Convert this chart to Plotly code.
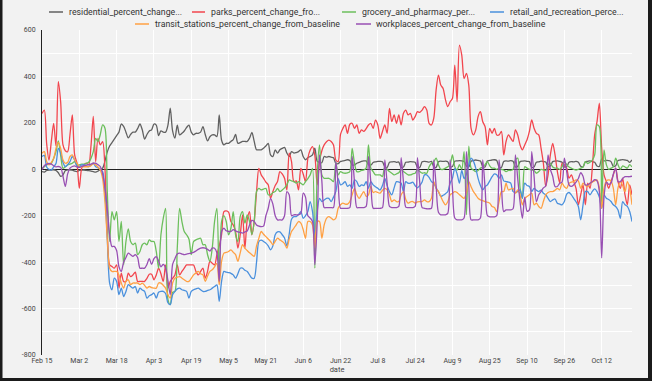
import plotly.graph_objects as go
import pandas as pd

start_date = "2020-02-15"
n_days = 254
dates = pd.date_range(start_date, periods=n_days, freq="D")

residential = [
    -10, -12, -5, -3, -4, -2, -5,
    -15, -30, -25, -5, -3, -2, -4,
    -8, -10, -5, -4, -3, -5, -6,
    -8, -10, -12, -8, -2, 5, 35,
    75, 100, 115, 130, 145, 160, 195,
    185, 160, 135, 150, 160, 160, 175,
    195, 170, 130, 150, 165, 170, 195,
    190, 145, 165, 160, 160, 190, 263,
    165, 134, 190, 148, 155, 165, 180,
    190, 160, 148, 155, 155, 160, 184,
    150, 122, 140, 148, 148, 141, 234,
    125, 105, 112, 112, 120, 128, 150,
    112, 115, 120, 120, 120, 134, 159,
    120, 84, 84, 84, 91, 100, 112,
    62, 55, 84, 70, 84, 90, 94,
    70, 55, 76, 70, 72, 76, 84,
    55, 41, 50, 55, 62, 91, 34,
    30, 28, 55, 52, 55, 52, 50,
    26, 24, 34, 36, 38, 41, 38,
    19, 19, 26, 30, 34, 36, 36,
    20, 18, 29, 32, 34, 34, 32,
    10, 8, 30, 32, 33, 30, 31,
    8, 10, 30, 31, 33, 32, 30,
    9, 8, 32, 34, 33, 31, 34,
    10, 8, 33, 35, 34, 35, 33,
    10, 12, 35, 36, 37, 36, 34,
    14, 10, 35, 38, 40, 38, 36,
    12, 10, 36, 38, 40, 41, 38,
    10, 8, 34, 36, 35, 37, 35,
    10, 12, 33, 35, 36, 34, 33,
    8, 10, 30, 32, 35, 33, 31,
    12, 14, 33, 35, 36, 34, 30,
    10, 12, 30, 33, 32, 34, 30,
    13, 10, 32, 34, 36, 33, 30,
    14, 12, 45, 36, 38, 37, 33,
    12, 15, 38, 40, 42, 40, 38,
    30, 40,
]

parks = [
    240, 255, 110, 40, 120, 198, 100,
    378, 290, 105, 80, 76, 150, 234,
    62, 26, -82, 4, 20, 26, 19,
    100, 228, 33, 133, 105, 119, 4,
    -268, -412, -419, -426, -412, -512, -447,
    -483, -483, -447, -462, -455, -443, -483,
    -483, -483, -483, -470, -452, -452, -476,
    -455, -426, -450, -483, -412, -512, -483,
    -470, -455, -412, -455, -440, -426, -412,
    -412, -412, -412, -440, -455, -440, -426,
    -469, -440, -397, -405, -412, -368, -330,
    -282, -182, -179, -185, -225, -240, -268,
    -340, -282, -196, -340, -218, -182, -282,
    -225, -96, 4, -24, -39, -55, -67,
    -125, -96, -70, -53, -10, -20, -39,
    -89, 69, 33, -53, -50, -89, 4,
    -20, -53, 47, 83, 98, 60, -67,
    33, 80, 105, 119, 126, 120, 105,
    40, 33, 150, 176, 191, 155, 194,
    198, 176, 191, 155, 170, 163, 175,
    191, 198, 176, 212, 191, 133, 163,
    191, 155, 262, 205, 234, 198, 234,
    191, 241, 255, 234, 241, 212, 227,
    248, 245, 255, 270, 255, 198, 191,
    220, 341, 406, 363, 348, 300, 270,
    291, 305, 449, 291, 535, 492, 391,
    413, 363, 176, 148, 170, 227, 248,
    205, 184, 105, 176, 155, 176, 148,
    148, 163, 62, 120, 148, 134, 120,
    170, 148, 105, 84, 105, 127, 163,
    213, 177, 155, 148, 91, 26, -74,
    -24, 62, 112, 62, -10, -59, 26,
    19, 5, -38, -24, -53, -82, -153,
    -110, -67, -153, -60, -82, 10, 150,
    205, 285, 91, -24, -53, -82, -53,
    -24, 5, -53, -82, -38, -110, -153,
    -67, -110,
]

grocery = [
    4, 11, 19, 22, 26, 47, 76,
    122, 60, 4, 11, 19, 22, 26,
    33, 16, 19, 22, 22, 26, 30,
    47, 76, 133, 120, 150, 191, 177,
    -100, -311, -182, -218, -182, -311, -225,
    -412, -311, -257, -311, -325, -318, -368,
    -354, -325, -318, -325, -304, -311, -311,
    -354, -426, -282, -211, -168, -560, -583,
    -530, -526, -340, -168, -225, -268, -282,
    -300, -368, -311, -304, -300, -297, -325,
    -325, -368, -397, -340, -225, -168, -483,
    -225, -200, -225, -282, -254, -182, -282,
    -311, -203, -182, -232, -196, -225, -282,
    -225, -96, -82, -89, -85, -82, -110,
    -110, -100, -96, -82, -96, -89, -80,
    -67, -46, -50, -53, -60, -53, -60,
    -67, -53, -40, -24, 4, -426, -24,
    105, -24, -39, -39, -39, -45, -53,
    30, -24, -10, -15, -17, -15, -10,
    90, 26, -10, -10, -5, -3, 5,
    105, 5, -10, -24, -24, -24, -31,
    11, 0, -10, -17, -24, -20, -15,
    0, -10, -17, -24, -24, -20, -17,
    0, -10, -17, -15, -17, 11, 26,
    33, 48, 20, 0, 0, 5, 11,
    20, 62, 11, -3, 20, 0, 76,
    -196, 100, 5, -3, -10, -5, 5,
    10, 20, 33, 15, 5, 5, 0,
    5, 0, -3, -10, -5, -5, 0,
    40, 48, -80, -125, 11, 5, 0,
    -3, -5, -17, -10, 0, -3, -5,
    19, 26, 10, 5, 5, 0, 10,
    33, 20, 10, 5, 0, -3, 0,
    5, 10, 33, 25, 30, 40, 62,
    191, 184, -150, 83, 20, 0, 5,
    10, 48, 20, 0, 15, 10, 5,
    20, 10,
]

retail = [
    55, 60, 10, 0, -3, 10, 25,
    90, 70, 30, 11, 20, 33, 55,
    40, 15, 11, 19, 19, 15, 11,
    20, 26, 11, 7, 0, -10, -100,
    -300, -490, -519, -469, -483, -540, -512,
    -548, -526, -497, -505, -512, -505, -533,
    -512, -520, -526, -555, -545, -540, -533,
    -555, -530, -526, -526, -535, -575, -583,
    -540, -526, -515, -512, -519, -522, -526,
    -555, -526, -519, -515, -512, -519, -526,
    -526, -522, -519, -512, -505, -498, -569,
    -483, -440, -443, -445, -448, -455, -469,
    -450, -426, -426, -435, -440, -455, -469,
    -469, -400, -311, -305, -311, -318, -330,
    -347, -330, -282, -270, -270, -282, -296,
    -330, -280, -215, -204, -204, -195, -182,
    -211, -200, -182, -139, -182, -282, -182,
    -125, -139, -132, -125, -125, -139, -120,
    -96, -40, -67, -62, -53, -74, -67,
    -82, -46, -53, -74, -67, -70, -53,
    -82, -53, -67, -75, -82, -89, -70,
    -39, -70, -96, -110, -80, -53, -55,
    -60, -96, -53, -60, -60, -55, -70,
    -80, -70, -55, -24, -24, -35, -53,
    -60, -80, -96, -117, -112, -105, -96,
    -60, -39, 4, -20, -60, -5, -40,
    -20, 20, 48, 35, 5, -39, -70,
    -89, -75, -67, -50, -32, -20, -24,
    -39, -24, -50, -53, -55, -60, -96,
    -100, -96, -89, -125, -60, -70, -74,
    -96, -82, -90, -96, -90, -103, -110,
    -125, -139, -132, -128, -146, -150, -153,
    -139, -107, -100, -110, -125, -140, -160,
    -218, -153, -96, -96, -110, -95, -84,
    -96, -120, -168, -110, -125, -130, -139,
    -153, -160, -175, -211, -139, -153, -160,
    -182, -225,
]

transit = [
    69, 76, 33, 19, 30, 47, 90,
    116, 90, 40, 26, 30, 55, 62,
    40, 26, 11, 11, 11, 11, 11,
    15, 26, 19, 10, -3, -40, -140,
    -300, -426, -440, -440, -440, -455, -490,
    -512, -483, -476, -497, -490, -490, -490,
    -497, -490, -500, -512, -505, -510, -512,
    -512, -490, -490, -500, -512, -540, -555,
    -490, -469, -465, -462, -469, -476, -483,
    -483, -470, -455, -447, -440, -450, -455,
    -483, -460, -440, -433, -420, -405, -498,
    -397, -361, -358, -354, -347, -358, -368,
    -397, -360, -325, -340, -350, -360, -368,
    -375, -330, -297, -268, -280, -290, -300,
    -311, -325, -310, -297, -304, -311, -320,
    -340, -300, -268, -254, -239, -225, -232,
    -260, -297, -225, -225, -240, -340, -225,
    -225, -297, -240, -211, -204, -210, -218,
    -210, -168, -153, -146, -150, -150, -139,
    -110, -82, -110, -125, -110, -96, -117,
    -110, -74, -100, -96, -100, -103, -90,
    -82, -89, -110, -139, -132, -139, -139,
    -110, -96, -130, -146, -140, -139, -146,
    -140, -139, -139, -132, -139, -139, -125,
    -53, -82, -96, -117, -139, -153, -140,
    -110, -103, -96, -100, -110, -118, -125,
    -100, -53, -75, -96, -110, -125, -132,
    -135, -139, -142, -146, -160, -165, -182,
    -139, -96, -96, -60, -89, -85, -82,
    -103, -89, -110, -153, -125, -117, -110,
    -103, -153, -146, -160, -168, -139, -110,
    -100, -96, -96, -90, -82, -89, -60,
    -75, -82, -60, -55, -53, -46, -50,
    -82, -60, -70, -74, -60, -55, -50,
    -46, -80, -168, -80, -50, -46, -50,
    -82, -153, -80, -53, -70, -96, -53,
    -82, -153,
]

workplaces = [
    -2, 15, 22, 25, 22, 15, 10,
    12, 8, -30, -74, -20, 5, 12,
    15, 10, 8, 12, 15, 18, 20,
    22, 26, 26, 20, 12, -20, -80,
    -170, -282, -333, -332, -350, -420, -440,
    -400, -380, -361, -368, -375, -368, -380,
    -426, -426, -426, -410, -385, -410, -385,
    -376, -395, -420, -410, -425, -480, -540,
    -410, -385, -365, -361, -365, -368, -365,
    -363, -361, -358, -352, -345, -340, -338,
    -340, -345, -352, -340, -340, -360, -483,
    -268, -254, -265, -268, -268, -260, -265,
    -270, -272, -275, -270, -266, -240, -220,
    -225, -240, -245, -247, -245, -200, -168,
    -125, -150, -200, -218, -218, -218, -200,
    -96, -110, -200, -196, -196, -196, -190,
    -103, -120, -200, -210, -225, -411, -230,
    62, -50, -165, -165, -165, -165, -165,
    33, -65, -168, -168, -168, -168, -165,
    55, -55, -165, -165, -165, -165, -160,
    55, -55, -168, -168, -168, -168, -165,
    40, -60, -160, -165, -165, -165, -160,
    50, -55, -163, -165, -165, -165, -160,
    50, -60, -165, -168, -170, -170, -168,
    40, -70, -185, -196, -196, -196, -190,
    40, -80, -210, -218, -218, -218, -210,
    76, -70, -218, -218, -218, -218, -210,
    40, -80, -200, -205, -205, -205, -200,
    40, -70, -182, -175, -175, -175, -170,
    62, -40, -140, -211, -120, -180, -175,
    76, -30, -139, -110, -96, -80, -72,
    62, 0, -30, -74, -74, -60, -55,
    48, -10, -67, -74, -67, -55, -40,
    -15, -30, -67, -67, -60, -53, -45,
    -50, -96, -382, -120, -55, -65, -60,
    -20, 5, -53, -53, -40, -32, -32,
    -32, -30,
]

series_names = [
    "residential_percent_change_from_baseline",
    "parks_percent_change_from_baseline",
    "grocery_and_pharmacy_percent_change_from_baseline",
    "retail_and_recreation_percent_change_from_baseline",
    "transit_stations_percent_change_from_baseline",
    "workplaces_percent_change_from_baseline",
]
legend_labels = [
    "residential_percent_change...",
    "parks_percent_change_fro...",
    "grocery_and_pharmacy_per...",
    "retail_and_recreation_perce...",
    "transit_stations_percent_change_from_baseline",
    "workplaces_percent_change_from_baseline",
]
series_values = [residential, parks, grocery, retail, transit, workplaces]
colors = ["#616161", "#f2464e", "#6cbf5c", "#4a90dd", "#ffa043", "#984fb3"]

y_tick_values = [600, 400, 200, 0, -200, -400, -600, -800]
y_tick_text = ["600", "400", "200", "0", "-200", "-400", "-600", "-800"]

for vals in series_values:
    assert len(vals) == n_days, len(vals)

W, H = 652, 381
ML, MR, MT, MB = 42, 20, 30, 26
PW, PH = W - ML - MR, H - MT - MB


def px_x(px):
    return (px - ML) / PW


def px_y(py):
    return (H - MB - py) / PH


fig = go.Figure()
for name, vals, col in zip(series_names, series_values, colors):
    fig.add_trace(go.Scatter(
        x=dates, y=vals, name=name, mode="lines",
        line=dict(color=col, width=1.3, shape="spline", smoothing=0.8),
        showlegend=False,
    ))

# custom legend (two centred rows)
legend_layout = [
    (49, 63, 67, 12), (192, 205, 209, 12), (342, 356, 360, 12), (490, 504, 508, 12),
    (135, 149, 153, 24), (356, 371, 374, 24),
]
shapes = []
annotations = []
for (sx0, sx1, tx, ry), lab, col in zip(legend_layout, legend_labels, colors):
    shapes.append(dict(type="line", xref="paper", yref="paper",
                       x0=px_x(sx0), x1=px_x(sx1), y0=px_y(ry), y1=px_y(ry),
                       line=dict(color=col, width=1.5)))
    annotations.append(dict(xref="paper", yref="paper", x=px_x(tx), y=px_y(ry),
                            xanchor="left", yanchor="middle", showarrow=False,
                            text=lab, font=dict(family="Roboto", size=8.75, color="#333333")))

# dark frame on left, right and bottom
for x0, x1, y0, y1 in [(0, 2.5, 0, H), (648, W, 0, H), (0, W, 378, H)]:
    shapes.append(dict(type="rect", xref="paper", yref="paper",
                       x0=px_x(x0), x1=px_x(x1), y0=px_y(y1), y1=px_y(y0),
                       fillcolor="#1b1b1b", line=dict(width=0), layer="above"))

fig.update_layout(
    width=W, height=H,
    margin=dict(l=ML, r=MR, t=MT, b=MB),
    paper_bgcolor="#f2f2f2", plot_bgcolor="#f2f2f2",
    font=dict(family="Roboto", color="#444444"),
    showlegend=False,
    shapes=shapes, annotations=annotations,
    xaxis=dict(
        type="date", range=[dates[0], dates[-1]],
        tick0="2020-02-15", dtick=16 * 86400000, tickformat="%b %-d",
        showgrid=True, gridcolor="#ffffff", gridwidth=1,
        zeroline=False, showline=False, ticks="",
        tickfont=dict(size=7, color="#444444"),
        title=dict(text="date", font=dict(size=7.5, color="#444444"), standoff=2),
        automargin=False,
    ),
    yaxis=dict(
        range=[-800, 600], tickmode="array",
        tickvals=y_tick_values, ticktext=y_tick_text,
        showgrid=True, gridcolor="#ffffff", gridwidth=1,
        minor=dict(tickvals=[500, 300, 100, -100, -300, -500, -700],
                   showgrid=True, gridcolor="#ffffff", gridwidth=1),
        zeroline=True, zerolinecolor="#222222", zerolinewidth=1,
        showline=True, linecolor="#222222", linewidth=1, ticks="",
        tickfont=dict(size=7, color="#444444"),
        ticklabelstandoff=4,
        automargin=False,
    ),
)

fig.write_html(
    "out.html",
    config={"displayModeBar": False},
    post_script="document.body.style.margin='0px';document.body.style.overflow='hidden';",
)
